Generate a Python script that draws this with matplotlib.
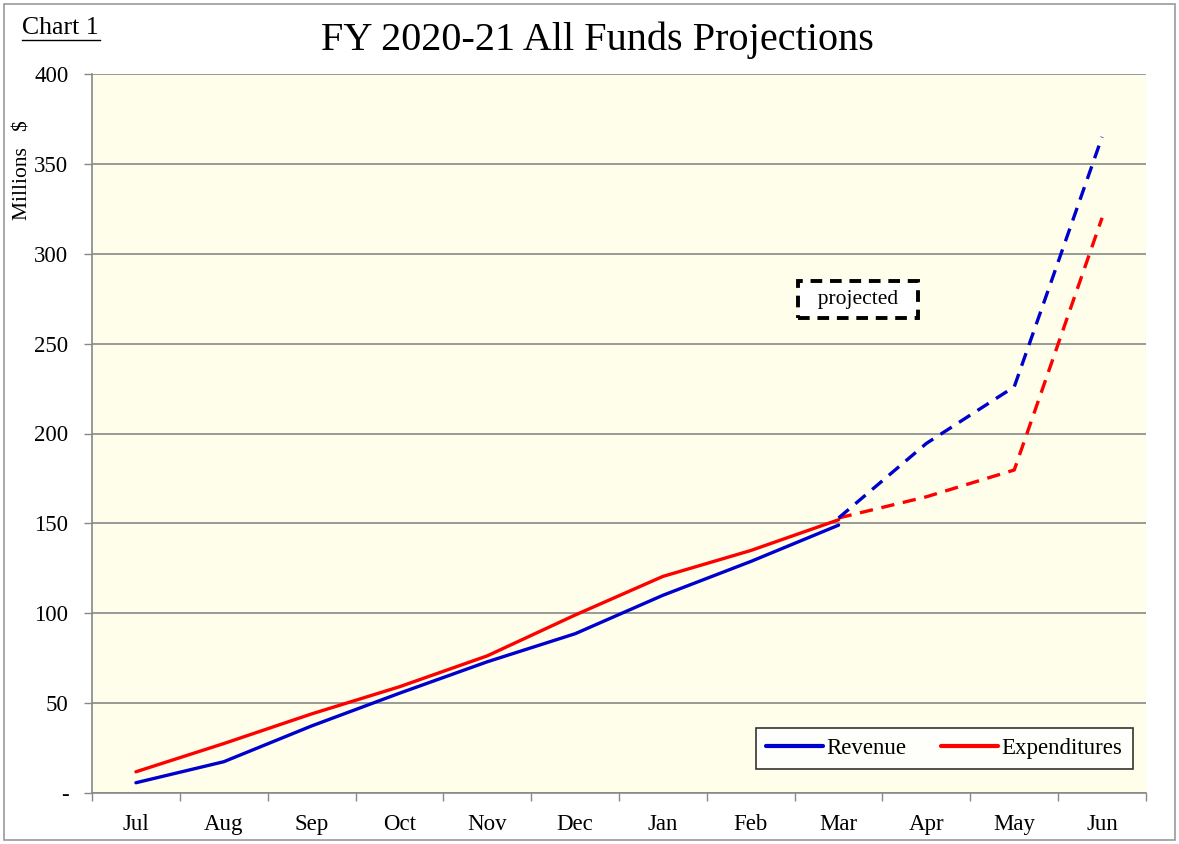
import numpy as np
import matplotlib.pyplot as plt
from matplotlib.patches import Rectangle

months = ['Jul', 'Aug', 'Sep', 'Oct', 'Nov', 'Dec', 'Jan', 'Feb', 'Mar', 'Apr', 'May', 'Jun']
revenue = [5.7, 17.4, 37.3, 55.5, 73.0, 88.6, 110.0, 128.8, 149.0]          # Jul..Mar actual
expenditures = [11.8, 27.5, 44.0, 59.1, 76.3, 99.0, 120.5, 134.9, 152.0]    # Jul..Mar actual
proj_months = ['Mar', 'Apr', 'May', 'Jun']
revenue_proj = [153.0, 194.5, 226.0, 365.0]
expenditures_proj = [153.0, 164.8, 179.7, 320.0]
yticks = [0, 50, 100, 150, 200, 250, 300, 350, 400]
yticklabels = ['-', '50', '100', '150', '200', '250', '300', '350', '400']

plt.rcParams['font.family'] = ['Liberation Serif', 'DejaVu Serif']

fig = plt.figure(figsize=(11.79, 8.44), dpi=100)
fig.patch.set_facecolor('white')
ax = fig.add_axes([92/1179, 1 - 793/844, (1146 - 92)/1179, (793 - 74)/844])
ax.set_facecolor('#FEFEEA')

x_act = np.arange(len(revenue))
x_proj = np.array([months.index(m) for m in proj_months])

dash = (0, (4, 2.6))
ax.plot(x_act, revenue, color='#0000CC', lw=2.4, label='Revenue', solid_capstyle='round', zorder=4)
ax.plot(x_act, expenditures, color='#FF0000', lw=2.4, label='Expenditures', solid_capstyle='round', zorder=3)
ax.plot(x_proj, revenue_proj, color='#0000CC', lw=2.4, linestyle=dash, zorder=4)
ax.plot(x_proj, expenditures_proj, color='#FF0000', lw=2.4, linestyle=dash, zorder=3)

ax.set_xlim(-0.5, len(months) - 0.5)
ax.set_ylim(0, 400)
ax.set_yticks(yticks)
ax.set_yticklabels(yticklabels, fontsize=16.5)
ax.set_xticks(np.arange(len(months)))
ax.set_xticklabels(months, fontsize=16.5)
ax.set_xticks(np.arange(-0.5, len(months)), minor=True)
ax.tick_params(axis='x', which='major', length=0, pad=15)
ax.tick_params(axis='x', which='minor', length=6, color='#888888', width=1)
ax.tick_params(axis='y', length=6, color='#888888', width=1, pad=11)
ax.grid(axis='y', color='#888888', lw=1.2, zorder=1)
ax.set_axisbelow(True)
for side in ['top', 'right']:
    ax.spines[side].set_visible(False)
for side in ['left', 'bottom']:
    ax.spines[side].set_color('#888888')
    ax.spines[side].set_linewidth(1.2)

leg = ax.legend(loc='lower right', bbox_to_anchor=(0.9985, 0.017), ncol=2, fontsize=16.5,
                frameon=True, fancybox=False, handlelength=2.5, handletextpad=0.15,
                columnspacing=1.5, borderpad=0.45, edgecolor='black')
leg.get_frame().set_linewidth(1.2)
for line in leg.get_lines():
    line.set_linewidth(3)

ax.text(8.22, 274.5, '  projected  ', fontsize=15.5, ha='center', va='center', zorder=6,
        bbox=dict(boxstyle='square,pad=0.42', facecolor='white', edgecolor='black',
                  linewidth=2.8, linestyle=(0, (3, 2))))

fig.text(597/1179, 1 - 40/844, 'FY 2020-21 All Funds Projections',
         fontsize=29, ha='center', va='center')
fig.text(22/1179, 1 - 28/844, 'Chart 1', fontsize=18.5, ha='left', va='center')
fig.add_artist(plt.Line2D([22/1179, 100/1179], [1 - 40/844, 1 - 40/844], color='black', lw=1))
fig.text(23/1179, 1 - 170/844, 'Millions   $', fontsize=15.5, rotation=90, ha='center', va='center')

fig.add_artist(Rectangle((4/1179, 4/844), 1 - 8/1179, 1 - 8/844, transform=fig.transFigure,
                         fill=False, edgecolor='#999999', lw=1.2))

fig.savefig('out.png', dpi=100, facecolor='white')
